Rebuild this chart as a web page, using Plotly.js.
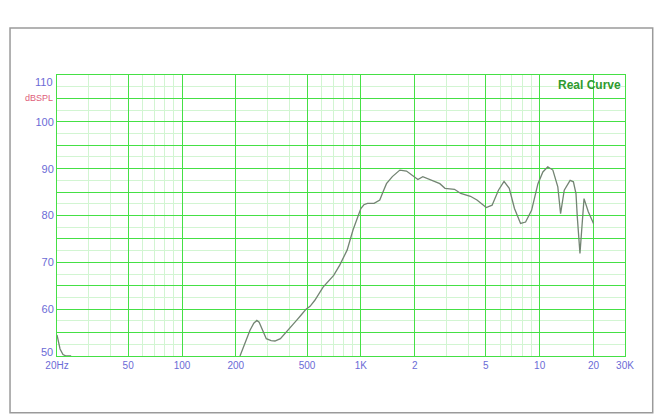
<!DOCTYPE html>
<html>
<head>
<meta charset="utf-8">
<script src="https://cdn.plot.ly/plotly-3.0.1.min.js"></script>
<style>html,body{margin:0;padding:0;background:#fff;}#chart{width:661px;height:420px;}</style>
</head>
<body>
<div id="chart"></div>
<script>
// Frequency (Hz) and SPL (dB)
const freq = [20, 20.8, 21.6, 22.5, 24, 100,
  211, 225, 240, 252, 262, 270, 278, 296, 315, 331, 355, 384, 410, 437, 465, 494, 520, 553,
  615, 660, 705, 762, 838, 904, 960, 1000, 1040, 1089, 1186, 1276, 1330, 1391, 1500, 1652,
  1800, 1950, 2085, 2220, 2450, 2765, 2955, 3340, 3620, 4100, 4460, 5030, 5420, 5880, 6320,
  6760, 7230, 7820, 8340, 9010, 9780, 10420, 11100, 11850, 12630, 13090, 13720, 14800,
  15440, 15960, 16230, 16800, 17700, 18700, 20000];
const spl = [54.5, 51.5, 50.3, 50.0, 50.0, null,
  50.0, 52.8, 55.5, 57.0, 57.6, 57.2, 56.2, 53.7, 53.3, 53.2, 53.7, 55.1, 56.3, 57.6, 58.8, 60.0, 60.6, 61.9,
  64.7, 66.1, 67.2, 69.4, 72.6, 76.9, 79.8, 81.5, 82.3, 82.6, 82.6, 83.3, 85.0, 86.8, 88.3, 89.7,
  89.5, 88.6, 87.7, 88.3, 87.6, 86.8, 85.8, 85.6, 84.7, 84.1, 83.3, 81.7, 82.2, 85.4, 87.3,
  85.8, 81.5, 78.3, 78.6, 81.1, 86.8, 89.3, 90.4, 89.7, 86.1, 80.4, 85.4, 87.5,
  87.2, 84.7, 79.7, 71.9, 83.6, 80.8, 78.3];

const xMajorVals = [20, 50, 100, 200, 500, 1000, 2000, 5000, 10000, 20000, 30000];
const xMajorText = ["20Hz", "50", "100", "200", "500", "1K", "2", "5", "10", "20", "30K"];
const xMinorVals = [30, 40, 60, 70, 80, 90, 300, 400, 600, 700, 800, 900,
  3000, 4000, 6000, 7000, 8000, 9000];
const yMajorVals = [50, 55, 60, 65, 70, 75, 80, 85, 90, 95, 100, 105, 110];
// end labels (50, 110) are drawn as annotations nudged inward, as in the reference
const yMajorText = ["", "", "60", "", "70", "", "80", "", "90", "", "100", "", ""];
const yEndVals = [50, 110];
const yEndText = ["50", "110"];
const yMinorVals = [52.5, 57.5, 62.5, 67.5, 72.5, 77.5, 82.5, 87.5, 92.5, 97.5, 102.5, 107.5];

const gridMajor = '#45e045';
const gridMinor = '#d2f5d2';
const labelColor = '#6b6bd6';

const trace = {
  x: freq, y: spl, type: 'scatter', mode: 'lines',
  line: {color: '#738473', width: 1.3},
  connectgaps: false, hoverinfo: 'skip'
};

const annotations = [
  {text: 'dBSPL', xref: 'paper', yref: 'y', x: 0, y: 105.1, xanchor: 'right', yanchor: 'middle',
   xshift: -2, showarrow: false, font: {size: 9, color: '#e0607a'}},
  {text: '<b>Real Curve</b>', xref: 'paper', yref: 'paper', x: 1, y: 1, xanchor: 'right', yanchor: 'top',
   xshift: -2, yshift: -1, showarrow: false, font: {size: 12, color: '#2f9a2f'}}
];
yEndVals.forEach((v, i) => {
  annotations.push({text: yEndText[i], xref: 'paper', yref: 'y', x: 0, y: v,
    xanchor: 'right', yanchor: 'middle', xshift: -2, yshift: i === 0 ? 4 : -7,
    showarrow: false, font: {size: 11, color: labelColor}});
});

const layout = {
  width: 661, height: 420,
  margin: {l: 57, r: 36, t: 75, b: 64},
  paper_bgcolor: '#ffffff', plot_bgcolor: '#ffffff',
  showlegend: false,
  font: {family: 'Liberation Sans, Arial, sans-serif'},
  xaxis: {
    type: 'log', range: [Math.log10(20), Math.log10(30000)],
    tickmode: 'array', tickvals: xMajorVals, ticktext: xMajorText,
    tickfont: {size: 10, color: labelColor},
    showgrid: true, gridcolor: gridMajor, gridwidth: 1,
    showline: true, linecolor: gridMajor, linewidth: 1, mirror: true,
    ticks: '', zeroline: false, fixedrange: true,
    minor: {tickmode: 'array', tickvals: xMinorVals, showgrid: true, gridcolor: gridMinor, gridwidth: 1, ticks: ''}
  },
  yaxis: {
    range: [50, 110],
    tickmode: 'array', tickvals: yMajorVals, ticktext: yMajorText,
    tickfont: {size: 11, color: labelColor},
    showgrid: true, gridcolor: gridMajor, gridwidth: 1,
    showline: true, linecolor: gridMajor, linewidth: 1, mirror: true,
    ticks: '', zeroline: false, fixedrange: true,
    minor: {tickmode: 'array', tickvals: yMinorVals, showgrid: true, gridcolor: gridMinor, gridwidth: 1, ticks: ''}
  },
  annotations: annotations,
  shapes: [
    {type: 'rect', xref: 'paper', yref: 'paper', x0: -0.0827, x1: 1.0488, y0: -0.202, y1: 1.167,
     line: {color: '#9a9a9a', width: 1.5}, fillcolor: 'rgba(0,0,0,0)', layer: 'below'}
  ]
};

Plotly.newPlot('chart', [trace], layout, {displayModeBar: false, staticPlot: true});
</script>
</body>
</html>
